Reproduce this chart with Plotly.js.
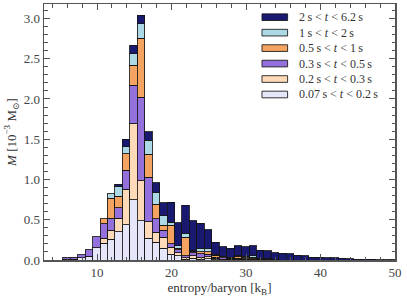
<!DOCTYPE html>
<html><head><meta charset="utf-8">
<script src="https://cdn.plot.ly/plotly-3.0.1.min.js"></script>
<style>html,body{margin:0;padding:0;background:#fff}#c{width:407px;height:300px}</style>
</head><body><div id="c"></div>
<script>
// bin centres of entropy/baryon histogram [kB]
const binCenters = [5.9,6.9,7.9,8.9,9.9,10.9,11.9,12.9,13.9,14.9,15.9,16.9,17.9,18.9,19.9,20.9,21.9,22.9,23.9,24.9,25.9,26.9,27.9,28.9,29.9,30.9,31.9,32.9,33.9,34.9,35.9,36.9,37.9,38.9,39.9,40.9,41.9,42.9,43.9,44.9,45.9,46.9,47.9,48.9,49.9];
const binWidth = 1.0;

// mass per bin [1e-3 Msun], one array per time window (bottom to top of stack)
const m_007_02 = [0.01,0.01,0.03,0.045,0.15,0.207,0.257,0.352,0.435,0.75,0.485,0.27,0.222,0.145,0.07,0.05,0.01,0.02,0.01,0.015,0.005,0.005,0.004,0.004,0.003,0.003,0.002,0.001,0,0,0,0,0,0,0,0,0,0,0,0,0,0,0,0,0];
const m_02_03  = [0,0,0,0,0,0.065,0.113,0.166,0.443,0.944,0.5,0.206,0.125,0.137,0.09,0.04,0.015,0.03,0.025,0.025,0.015,0.007,0.006,0.006,0.007,0.007,0.006,0.003,0,0,0,0,0,0,0,0,0,0,0,0,0,0,0,0,0];
const m_03_05  = [0.025,0.025,0.035,0.08,0.14,0.177,0.15,0.132,0.24,0.476,1.036,0.551,0.168,0.088,0.04,0.035,0.025,0.04,0.04,0.03,0.015,0.013,0.01,0.01,0.008,0.005,0.004,0.003,0,0,0,0,0,0,0,0,0,0,0,0,0,0,0,0,0];
const m_05_1   = [0,0,0,0,0,0.066,0.245,0.145,0.199,0.249,0.733,0.286,0.175,0.06,0.23,0.02,0.23,0.02,0.025,0.03,0.025,0.015,0.01,0.025,0.012,0.02,0.008,0.005,0.003,0,0,0,0,0,0,0,0,0,0,0,0,0,0,0,0];
const m_1_2    = [0,0,0,0,0,0,0.057,0.112,0.091,0.141,0.18,0.177,0.153,0.12,0.04,0.03,0.05,0.005,0.045,0.04,0.01,0.005,0.005,0.005,0.015,0.015,0.002,0.002,0.002,0,0,0,0,0,0,0,0,0,0,0,0,0,0,0,0];
const m_2_62   = [0,0,0,0,0,0,0,0.037,0.091,0.107,0.107,0.104,0.117,0.162,0.25,0.29,0.35,0.373,0.31,0.233,0.15,0.121,0.11,0.124,0.121,0.124,0.102,0.098,0.086,0.083,0.075,0.062,0.05,0.037,0.033,0.03,0.025,0.02,0.017,0.012,0.008,0.008,0.006,0.004,0.003];

const seriesLabels = [
  "0.07\u2009s &lt; <i>t</i> &lt; 0.2\u2009s",
  "0.2\u2009s &lt; <i>t</i> &lt; 0.3\u2009s",
  "0.3\u2009s &lt; <i>t</i> &lt; 0.5\u2009s",
  "0.5\u2009s &lt; <i>t</i> &lt; 1\u2009s",
  "1\u2009s &lt; <i>t</i> &lt; 2\u2009s",
  "2\u2009s &lt; <i>t</i> &lt; 6.2\u2009s"
];
const seriesData = [m_007_02, m_02_03, m_03_05, m_05_1, m_1_2, m_2_62];
const seriesColors = ["#e6e6fa","#ffdab9","#9370db","#f4a460","#add8e6","#191970"];

const FONT = "Liberation Serif, DejaVu Serif, serif";
const edge = "rgba(20,20,20,0.85)";

const traces = seriesData.map((arr,i)=>({
  type:'bar', x:binCenters, y:arr.map(v=>v===0?null:v), width:binWidth,
  name:seriesLabels[i], marker:{color:seriesColors[i], line:{color:edge,width:1}},
  showlegend:false, hoverinfo:'skip'
}));

// custom legend (top entry = last series)
const shapes = [], annotations = [];
const lx0 = 0.621, lx1 = 0.694, ltx = 0.72, ly0 = 0.9485, ldy = 0.0604, lh = 0.013;
for (let k=0;k<seriesLabels.length;k++){
  const idx = seriesLabels.length-1-k;
  const yc = ly0 - k*ldy;
  shapes.push({type:'rect', xref:'paper', yref:'paper', x0:lx0, x1:lx1, y0:yc-lh, y1:yc+lh,
    fillcolor:seriesColors[idx], line:{color:edge,width:1}});
  annotations.push({xref:'paper', yref:'paper', x:ltx, y:yc, xanchor:'left', yanchor:'middle',
    text:seriesLabels[idx], showarrow:false, font:{family:FONT,size:12,color:'#333'}});
}

const axisCommon = {
  showline:true, linecolor:'#555', linewidth:1.5, mirror:'allticks',
  ticks:'inside', ticklen:6, tickwidth:1, tickcolor:'#555',
  showgrid:false, zeroline:false,
  tickfont:{family:FONT,size:13,color:'#444'}
};

const layout = {
  width:407, height:300,
  margin:{l:44, r:12, t:4, b:40},
  paper_bgcolor:'#fff', plot_bgcolor:'#fff',
  barmode:'stack', bargap:0,
  xaxis:Object.assign({}, axisCommon, {
    range:[2.88,50], dtick:10, tick0:0,
    minor:{ticks:'inside', ticklen:3.5, dtick:2, tick0:0, tickcolor:'#555', showgrid:false},
    title:{text:'entropy/baryon [k<sub>B</sub>]', font:{family:FONT,size:13,color:'#333'}, standoff:0}
  }),
  yaxis:Object.assign({}, axisCommon, {
    range:[0,3.18], dtick:0.5, tick0:0, tickformat:'.1f',
    minor:{ticks:'inside', ticklen:3.5, dtick:0.1, tick0:0, tickcolor:'#555', showgrid:false},
    title:{text:'<i>M</i> [10<sup>\u22123</sup> M<sub>\u2299</sub>]', font:{family:FONT,size:13,color:'#333'}, standoff:4}
  }),
  shapes:shapes, annotations:annotations,
  showlegend:false
};

Plotly.newPlot('c', traces, layout, {staticPlot:true, displayModeBar:false});
</script></body></html>
